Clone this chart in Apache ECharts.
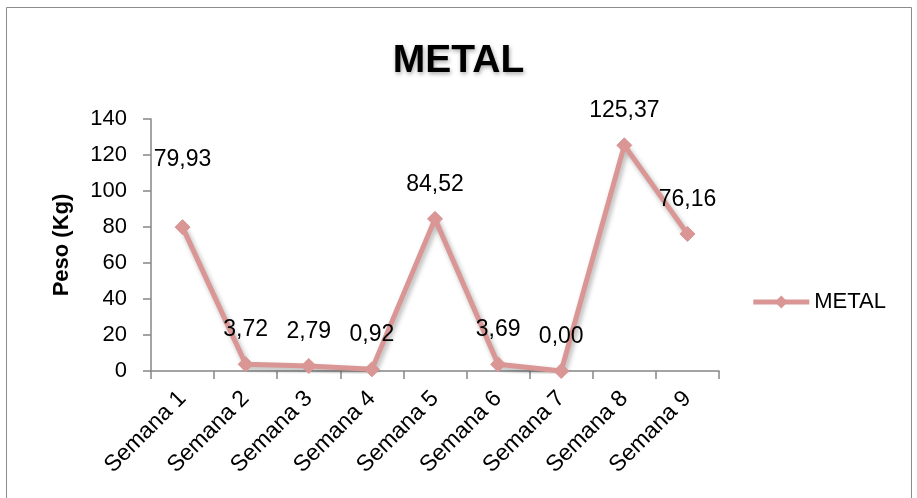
<!DOCTYPE html>
<html><head><meta charset="utf-8">
<script src="https://cdn.jsdelivr.net/npm/echarts@6/dist/echarts.min.js"></script>
<style>html,body{margin:0;padding:0;background:#fff}#c{width:917px;height:498px}</style>
</head><body><div id="c"></div>
<script>
var categories = ['Semana 1','Semana 2','Semana 3','Semana 4','Semana 5','Semana 6','Semana 7','Semana 8','Semana 9'];
var metalValues = [79.93, 3.72, 2.79, 0.92, 84.52, 3.69, 0.00, 125.37, 76.16];
var yTicks = {min: 0, max: 140, interval: 20};
var seriesName = 'METAL';

var FONT = '"Liberation Sans", "Open Sans", sans-serif';
var COLOR = '#d99694';
var fmt = function (v) { return v.toFixed(2).replace('.', ','); };

var data = metalValues.map(function (v, i) {
  var item = {value: v};
  if (i === 0) item.label = {distance: 48};
  return item;
});

var chart = echarts.init(document.getElementById('c'));
chart.setOption({
  animation: false,
  backgroundColor: '#fff',
  graphic: [{type: 'rect', shape: {x: 6.5, y: 7.5, width: 905, height: 500}, style: {fill: 'none', stroke: '#8c8c8c', lineWidth: 1}, silent: true}],
  title: {text: 'METAL', left: 'center', top: 37,
    textStyle: {fontFamily: FONT, fontWeight: 'bold', fontSize: 39, color: '#000', textShadowColor: 'rgba(0,0,0,0.35)', textShadowBlur: 4, textShadowOffsetX: 1, textShadowOffsetY: 2}},
  legend: {data: [seriesName], right: 26, top: 286, orient: 'vertical', itemWidth: 56, itemHeight: 16, itemGap: 10,
    lineStyle: {width: 5, color: COLOR},
    textStyle: {fontFamily: FONT, fontSize: 22, color: '#000'}},
  grid: {left: 151, right: 198, top: 119, bottom: 127, containLabel: false},
  xAxis: {type: 'category', data: categories, boundaryGap: true,
    axisLine: {lineStyle: {color: '#868686', width: 1.5}},
    axisTick: {show: true, length: 8, alignWithLabel: false, lineStyle: {color: '#868686', width: 1.5}},
    axisLabel: {rotate: 45, interval: 0, fontFamily: FONT, fontSize: 23, color: '#000', margin: 24}},
  yAxis: {type: 'value', min: yTicks.min, max: yTicks.max, interval: yTicks.interval,
    name: 'Peso (Kg)', nameLocation: 'middle', nameGap: 78, nameRotate: 90,
    nameTextStyle: {fontFamily: FONT, fontWeight: 'bold', fontSize: 22, color: '#000'},
    axisLine: {show: true, lineStyle: {color: '#868686', width: 1.5}},
    axisTick: {show: true, length: 8, lineStyle: {color: '#868686', width: 1.5}},
    splitLine: {show: false},
    axisLabel: {fontFamily: FONT, fontSize: 22, color: '#000', margin: 24}},
  series: [{
    name: seriesName, type: 'line', data: data,
    symbol: 'diamond', symbolSize: 15,
    lineStyle: {color: COLOR, width: 5, shadowColor: 'rgba(0,0,0,0.3)', shadowBlur: 5, shadowOffsetX: 2, shadowOffsetY: 3},
    itemStyle: {color: COLOR, borderColor: COLOR},
    label: {show: true, position: 'top', distance: 15, fontFamily: FONT, fontSize: 23, color: '#000',
      formatter: function (p) { return fmt(p.value); }}
  }]
});
</script></body></html>
